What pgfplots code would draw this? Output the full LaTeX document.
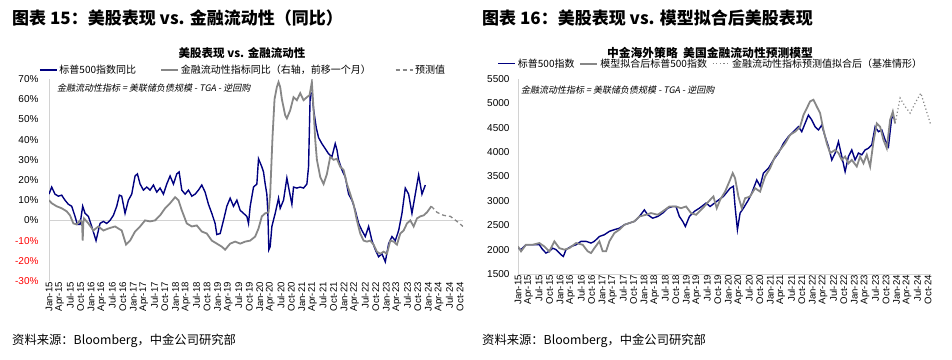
\documentclass[border=0pt]{standalone}
\usepackage{fontspec}
\usepackage{pgfplots}
\pgfplotsset{compat=1.18}
\setmainfont{Liberation Sans}
\newfontfamily\cjk{Noto Sans CJK SC}
\newfontfamily\cjkit{Noto Sans CJK SC}[FakeSlant=0.2]
\definecolor{navy}{RGB}{0,0,128}
\definecolor{sgray}{RGB}{135,135,135}
\definecolor{axgray}{RGB}{210,210,210}
\newcommand{\fs}[1]{\fontsize{#1}{#1}\selectfont}
\pgfplotsset{
  common/.style={
    scale only axis,
    axis lines*=left,
    axis line style={axgray, line width=1pt},
    major tick length=0pt,
    xmin=0, xmax=117.85,
    xtick={0,3,...,117},
    xticklabels={Jan-15,Apr-15,Jul-15,Oct-15,Jan-16,Apr-16,Jul-16,Oct-16,Jan-17,Apr-17,Jul-17,Oct-17,Jan-18,Apr-18,Jul-18,Oct-18,Jan-19,Apr-19,Jul-19,Oct-19,Jan-20,Apr-20,Jul-20,Oct-20,Jan-21,Apr-21,Jul-21,Oct-21,Jan-22,Apr-22,Jul-22,Oct-22,Jan-23,Apr-23,Jul-23,Oct-23,Jan-24,Apr-24,Jul-24,Oct-24},
    x tick label style={rotate=90, anchor=east, font=\fs{9.6}, inner sep=1pt},
    y tick label style={font=\fs{10}},
    /pgf/number format/assume math mode=true,
    /pgf/number format/1000 sep={},
    legend cell align=left,
    legend image code/.code={\draw[##1] (0pt,0pt) -- (17pt,0pt);},
  }
}
\begin{document}
\begin{tikzpicture}[x=1pt,y=1pt]
\path[use as bounding box] (0,0) rectangle (952,359);
% headings
\node[anchor=west, inner sep=0pt, font=\cjk\bfseries\fs{17}] at (12,341) {图表 15：美股表现 vs. 金融流动性（同比）};
\node[anchor=west, inner sep=0pt, font=\cjk\bfseries\fs{17}] at (482,341) {图表 16：美股表现 vs. 模型拟合后美股表现};
\node[inner sep=0pt, font=\cjk\bfseries\fs{11.5}] at (242,306) {美股表现 vs. 金融流动性};
\node[inner sep=0pt, font=\cjk\bfseries\fs{11.8}] at (710,306) {中金海外策略\ \ 美国金融流动性预测模型};
\node[anchor=west, inner sep=0pt, font=\cjk\fs{12.3}] at (12,18) {资料来源：Bloomberg，中金公司研究部};
\node[anchor=west, inner sep=0pt, font=\cjk\fs{12.3}] at (482,18) {资料来源：Bloomberg，中金公司研究部};
\node[anchor=west, inner sep=0pt, font=\cjkit\fs{9}] at (57,271) {金融流动性指标 = 美联储负债规模 - TGA - 逆回购};
\node[anchor=west, inner sep=0pt, font=\cjkit\fs{9}] at (521,269) {金融流动性指标 = 美联储负债规模 - TGA - 逆回购};

% ---------------- left panel
\begin{axis}[common,
  at={(49pt,78pt)}, anchor=south west, width=414pt, height=202pt,
  ymin=-30, ymax=70,
  ytick={-30,-20,...,70},
  yticklabels={\textcolor{red}{-30\%},\textcolor{red}{-20\%},\textcolor{red}{-10\%},0\%,10\%,20\%,30\%,40\%,50\%,60\%,70\%},
  y tick label style={xshift=-7pt},
  x axis line style={draw=none},
  legend style={at={(0.469,1.045)}, anchor=center, draw=none, fill=none, font=\cjk\fs{10}, legend columns=3,
    /tikz/every even column/.append style={column sep=22pt}},
]
\draw[axgray, line width=0.8pt] (axis cs:0,0) -- (axis cs:117.85,0);
\addplot[navy, line width=1.4pt] coordinates {
(0,13) (0.76,16.5) (1.71,13) (2.66,12) (3.61,12.5) (4.56,10) (5.51,8) (6.46,7) (7.41,2) (8.07,-2) (8.83,-2) (9.59,7) (10.26,3.5) (11.21,2) (12.16,-3) (13.39,-10) (14.53,-1.5) (15.48,-0.5) (16.43,-1.5) (17.38,0) (18.33,2.5) (19.28,7) (20.04,12.5) (20.70,12) (21.65,3.5) (22.60,10) (23.55,13) (24.50,22) (25.17,23) (25.93,18) (26.88,15) (27.83,16.5) (28.77,15) (29.72,17.5) (30.67,14) (31.62,16) (32.57,13) (33.52,18) (34.47,22) (35.42,18) (36.37,23) (37.04,24) (37.80,15) (38.75,13) (39.70,15) (40.65,12) (41.60,13) (42.55,15) (43.49,17.5) (44.44,14) (45.39,8) (46.34,3.5) (47.29,-1.5) (47.77,-7) (48.72,-6.5) (49.67,0) (50.62,7) (51.57,11) (52.52,7) (53.47,10) (54.42,5) (55.37,3.5) (56.32,2) (56.79,-1.5) (57.27,7) (58.22,16.5) (59.17,18) (59.64,30.5) (60.59,26.5) (61.06,24) (61.54,18) (62.01,13) (62.30,4) (62.58,-14.5) (62.96,-13) (63.44,-3) (64.39,3.5) (65.34,11) (65.81,6) (66.76,10) (67.71,21) (68.19,16.5) (69.14,8) (69.61,16.5) (70.56,16) (71.51,16.5) (72.46,16) (73.41,18) (73.88,26.5) (74.36,63) (74.83,63) (75.31,55) (76.07,46) (76.73,41) (77.68,38) (78.63,35.5) (79.58,33) (80.53,31.5) (81.48,38) (81.96,35) (82.43,30) (83.38,25) (84.33,21.5) (85.28,13) (86.23,10) (87.18,5) (88.13,-1.5) (89.08,-5) (90.03,-8) (90.98,-3) (91.93,-10) (92.88,-14.5) (93.83,-18) (94.78,-16.5) (95.73,-20.5) (96.68,-11.5) (97.63,-8) (98.58,-10) (99.53,-5) (100.48,3.5) (101.42,16) (102.37,13) (103.32,3.5) (104.27,13) (105.22,22.5) (106.17,13) (107.12,17.5)
};
\addlegendentry{标普500指数同比}
\addplot[sgray, line width=1.8pt] coordinates {
(0,10) (0.76,8.5) (2.18,7) (3.61,6) (5.03,4.5) (5.98,2.5) (6.93,-1.5) (7.88,-2) (8.83,0) (9.40,-1) (9.59,-10) (9.78,-1) (9.97,1) (11.21,-1.5) (12.63,-5) (14.06,-3) (15.48,-5) (16.90,-4) (18.80,-3) (20.70,-5) (21.94,-12) (23.08,-10) (24.50,-5.5) (25.93,-3) (27.35,0) (28.77,-0.5) (30.20,0) (31.62,2.5) (33.05,6) (34.47,8.5) (35.90,11.5) (36.85,10) (37.80,5) (39.22,-1.5) (40.65,-3) (42.07,-2.5) (43.49,-5.5) (44.92,-6.5) (46.34,-10) (47.77,-11.5) (49.19,-13) (50.14,-14.5) (51.57,-11.5) (52.99,-10.5) (54.42,-11.5) (55.84,-10.5) (57.27,-10) (58.69,-8) (59.64,-4) (60.59,2) (61.54,3.5) (62.49,4) (62.96,13) (63.63,41.5) (64.20,60) (64.86,66) (65.34,68.5) (65.81,66) (66.29,60) (67.24,52) (67.71,50.5) (68.66,54.5) (69.61,61) (70.56,59.5) (71.51,63) (72.46,59.5) (73.41,61) (74.17,62) (74.83,68.5) (75.31,55) (75.78,40) (76.26,30) (77.21,21.5) (78.16,18) (79.11,23) (80.06,31.5) (81.01,30) (81.96,30.5) (82.91,26.5) (83.86,25) (84.81,18) (85.76,13) (86.70,8) (87.65,0) (88.60,-6.5) (89.55,-10) (90.50,-10.5) (91.45,-10) (92.40,-12) (93.35,-15.5) (94.30,-16.5) (95.25,-15.5) (96.20,-16.5) (97.15,-10) (98.10,-10.5) (99.05,-12) (100.00,-6.5) (100.95,-5) (101.90,-1.5) (102.85,0) (103.80,-3) (104.75,1) (105.70,2) (106.65,2.5) (107.60,4) (108.83,7)
};
\addlegendentry{金融流动性指标同比（右轴，前移一个月）}
\addplot[sgray, line width=1.3pt, dash pattern=on 4pt off 3pt] coordinates {
(108.83,7) (110.44,4) (112.34,2.5) (114.24,2) (116.14,-0.5) (117.85,-3)
};
\addlegendentry{预测值}
\end{axis}

% ---------------- right panel
\begin{axis}[common,
  at={(518pt,85pt)}, anchor=south west, width=413pt, height=195pt,
  ymin=1500, ymax=5500,
  ytick={1500,2000,...,5500},
  y tick label style={xshift=-5pt},
  legend style={at={(0.467,1.078)}, anchor=center, draw=none, fill=none, font=\cjk\fs{10}, legend columns=3,
    /tikz/every even column/.append style={column sep=3pt}},
]
\addplot[navy, line width=1.4pt] coordinates {
(0,2032) (0.86,2000) (2.28,2100) (4.19,2100) (6.09,2100) (7.04,2000) (7.99,1930) (8.94,1965) (9.90,2030) (10.85,2000) (12.27,1895) (12.94,1860) (13.70,2000) (15.13,2065) (16.56,2100) (17.98,2170) (19.41,2170) (20.84,2135) (21.79,2170) (23.22,2270) (24.64,2305) (26.07,2375) (27.50,2410) (28.93,2440) (30.35,2510) (31.78,2545) (33.21,2580) (34.63,2680) (36.06,2815) (37.01,2715) (38.44,2645) (39.87,2680) (41.29,2750) (42.72,2850) (44.15,2885) (45.10,2885) (46.05,2680) (47.00,2580) (47.76,2475) (48.91,2680) (50.33,2785) (51.76,2850) (53.66,2955) (54.81,2885) (56.71,2990) (58.61,3090) (60.51,3260) (61.46,3300) (61.94,2885) (62.61,2410) (63.37,2750) (64.32,2850) (65.75,3020) (66.70,3160) (68.13,3430) (69.08,3300) (70.03,3570) (71.46,3670) (72.88,3840) (74.31,3980) (75.74,4180) (77.17,4320) (78.59,4420) (80.02,4520) (80.97,4420) (81.92,4590) (82.87,4760) (83.82,4660) (84.78,4520) (85.73,4455) (86.68,4555) (87.63,4320) (88.58,4115) (89.53,3840) (90.49,3980) (91.44,4215) (92.39,3910) (93.34,3600) (94.29,3910) (95.24,4045) (96.19,3840) (97.15,3980) (98.10,3945) (99.05,4045) (100.00,4080) (100.95,4150) (101.90,4520) (102.85,4420) (103.81,4455) (104.76,4250) (105.71,4115) (106.66,4725) (107.33,4695)
};
\addlegendentry{标普500指数}
\addplot[sgray, line width=1.8pt] coordinates {
(0,2065) (0.86,1965) (2.28,2100) (4.19,2100) (6.09,2135) (7.52,2065) (8.94,1965) (10.37,2170) (11.80,2030) (13.23,2000) (14.65,2030) (16.56,2135) (18.46,2100) (19.89,1965) (20.84,1930) (21.79,2030) (23.22,2170) (24.17,1965) (25.12,1965) (26.07,2170) (27.50,2340) (28.93,2410) (30.35,2510) (31.78,2545) (33.21,2580) (34.63,2680) (36.54,2715) (37.96,2750) (39.87,2715) (41.29,2785) (43.20,2885) (45.10,2885) (46.53,2850) (47.95,2885) (49.38,2750) (50.81,2715) (52.71,2850) (54.81,3020) (55.76,3090) (56.71,2850) (57.66,3020) (59.09,3190) (60.51,3430) (61.27,3570) (61.94,3465) (62.89,3090) (63.85,2850) (64.80,3055) (66.22,3090) (67.65,3260) (69.08,3190) (70.50,3500) (71.93,3670) (73.36,3910) (74.79,4045) (76.21,4180) (77.64,4355) (79.07,4420) (80.49,4520) (81.45,4760) (82.40,4900) (83.35,5040) (84.30,5075) (85.25,4935) (86.20,4800) (87.16,4455) (88.11,4180) (89.06,3980) (90.49,4045) (91.44,3980) (92.39,3840) (93.34,3910) (94.29,3770) (95.24,3840) (96.67,3705) (97.62,3910) (98.57,3770) (99.52,3945) (100.48,3705) (101.43,4215) (102.38,4590) (103.33,4520) (104.28,4250) (105.23,4080) (106.18,4660) (106.95,4830) (107.61,4590)
};
\addlegendentry{模型拟合后标普500指数}
\addplot[sgray, line width=1.2pt, dash pattern=on 1.2pt off 2.4pt] coordinates {
(107.61,4590) (109.04,5110) (110.47,4935) (111.89,4800) (113.32,5005) (114.94,5210) (116.46,4865) (117.79,4555)
};
\addlegendentry{金融流动性指标预测值拟合后（基准情形）}
\end{axis}
\end{tikzpicture}
\end{document}
